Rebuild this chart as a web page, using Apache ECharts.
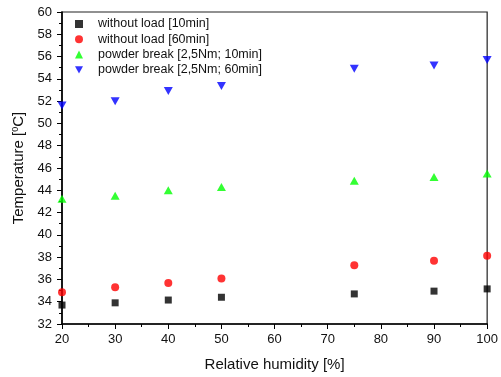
<!DOCTYPE html>
<html><head><meta charset="utf-8">
<script src="https://cdn.jsdelivr.net/npm/echarts@6/dist/echarts.min.js"></script>
<style>html,body{margin:0;padding:0;background:#fff}#c{width:501px;height:377px}</style>
</head><body><div id="c"></div>
<script>
const humidity = [20, 30, 40, 50, 75, 90, 100];
const noLoad10 = [33.7, 33.9, 34.15, 34.4, 34.7, 34.95, 35.15];
const noLoad60 = [34.85, 35.3, 35.67, 36.08, 37.27, 37.68, 38.12];
const powder10 = [43.25, 43.5, 44.0, 44.3, 44.85, 45.2, 45.5];
const powder60 = [51.6, 52.0, 52.9, 53.35, 54.9, 55.2, 55.7];
const seriesNames = ['without load [10min]', 'without load [60min]', 'powder break [2,5Nm; 10min]', 'powder break [2,5Nm; 60min]'];
const font = 'Liberation Sans, Arial, sans-serif';
const downTri = 'path://M0,0 L10,0 L5,9 Z';
const pairs = a => humidity.map((x, i) => [x, a[i]]);
const chart = echarts.init(document.getElementById('c'));
chart.setOption({
  animation: false,
  backgroundColor: '#fff',
  grid: { left: 62, right: 12, top: 12, bottom: 49, show: true, borderColor: '#222', borderWidth: 1.2, backgroundColor: 'transparent' },
  legend: {
    left: 75, top: 17.5, padding: 0, orient: 'vertical', itemGap: 2.3, itemWidth: 8, itemHeight: 8,
    textStyle: { fontFamily: font, fontSize: 12.5, lineHeight: 13, color: '#111', padding: [0, 0, 0, 10] },
    data: [
      { name: seriesNames[0], icon: 'rect' },
      { name: seriesNames[1], icon: 'circle' },
      { name: seriesNames[2], icon: 'triangle' },
      { name: seriesNames[3], icon: downTri }
    ]
  },
  xAxis: {
    type: 'value', min: 20, max: 100, interval: 10,
    name: 'Relative humidity [%]', nameLocation: 'middle', nameGap: 33,
    nameTextStyle: { fontFamily: font, fontSize: 15, color: '#111' },
    axisLine: { show: true, onZero: false, lineStyle: { color: '#000', width: 1.6 } },
    axisTick: { show: true, inside: false, length: 5, lineStyle: { color: '#000' } },
    minorTick: { show: true, splitNumber: 2, length: 3, lineStyle: { color: '#000' } },
    axisLabel: { fontFamily: font, fontSize: 13, color: '#111', margin: 9 },
    splitLine: { show: false }
  },
  yAxis: {
    type: 'value', min: 32, max: 60, interval: 2,
    name: 'Temperature [{sup|0}C]', nameLocation: 'middle', nameGap: 33, nameRotate: 90,
    nameTextStyle: { fontFamily: font, fontSize: 15, color: '#111', rich: { sup: { fontFamily: font, fontSize: 9, color: '#111', verticalAlign: 'top', padding: [0, 0, 7, 0] } } },
    axisLine: { show: true, onZero: false, lineStyle: { color: '#000', width: 1.6 } },
    axisTick: { show: true, inside: false, length: 5, lineStyle: { color: '#000' } },
    minorTick: { show: true, splitNumber: 2, length: 3, lineStyle: { color: '#000' } },
    axisLabel: { fontFamily: font, fontSize: 13, color: '#111', margin: 10 },
    splitLine: { show: false }
  },
  series: [
    { name: seriesNames[0], type: 'scatter', data: pairs(noLoad10), symbol: 'rect', symbolSize: 7, itemStyle: { color: '#000' } },
    { name: seriesNames[1], type: 'scatter', data: pairs(noLoad60), symbol: 'circle', symbolSize: 8, itemStyle: { color: '#ff0000' } },
    { name: seriesNames[2], type: 'scatter', data: pairs(powder10), symbol: 'triangle', symbolSize: [9, 8], itemStyle: { color: '#00ff00' } },
    { name: seriesNames[3], type: 'scatter', data: pairs(powder60), symbol: downTri, symbolSize: [9, 8], itemStyle: { color: '#0000ff' } }
  ]
});
</script></body></html>
